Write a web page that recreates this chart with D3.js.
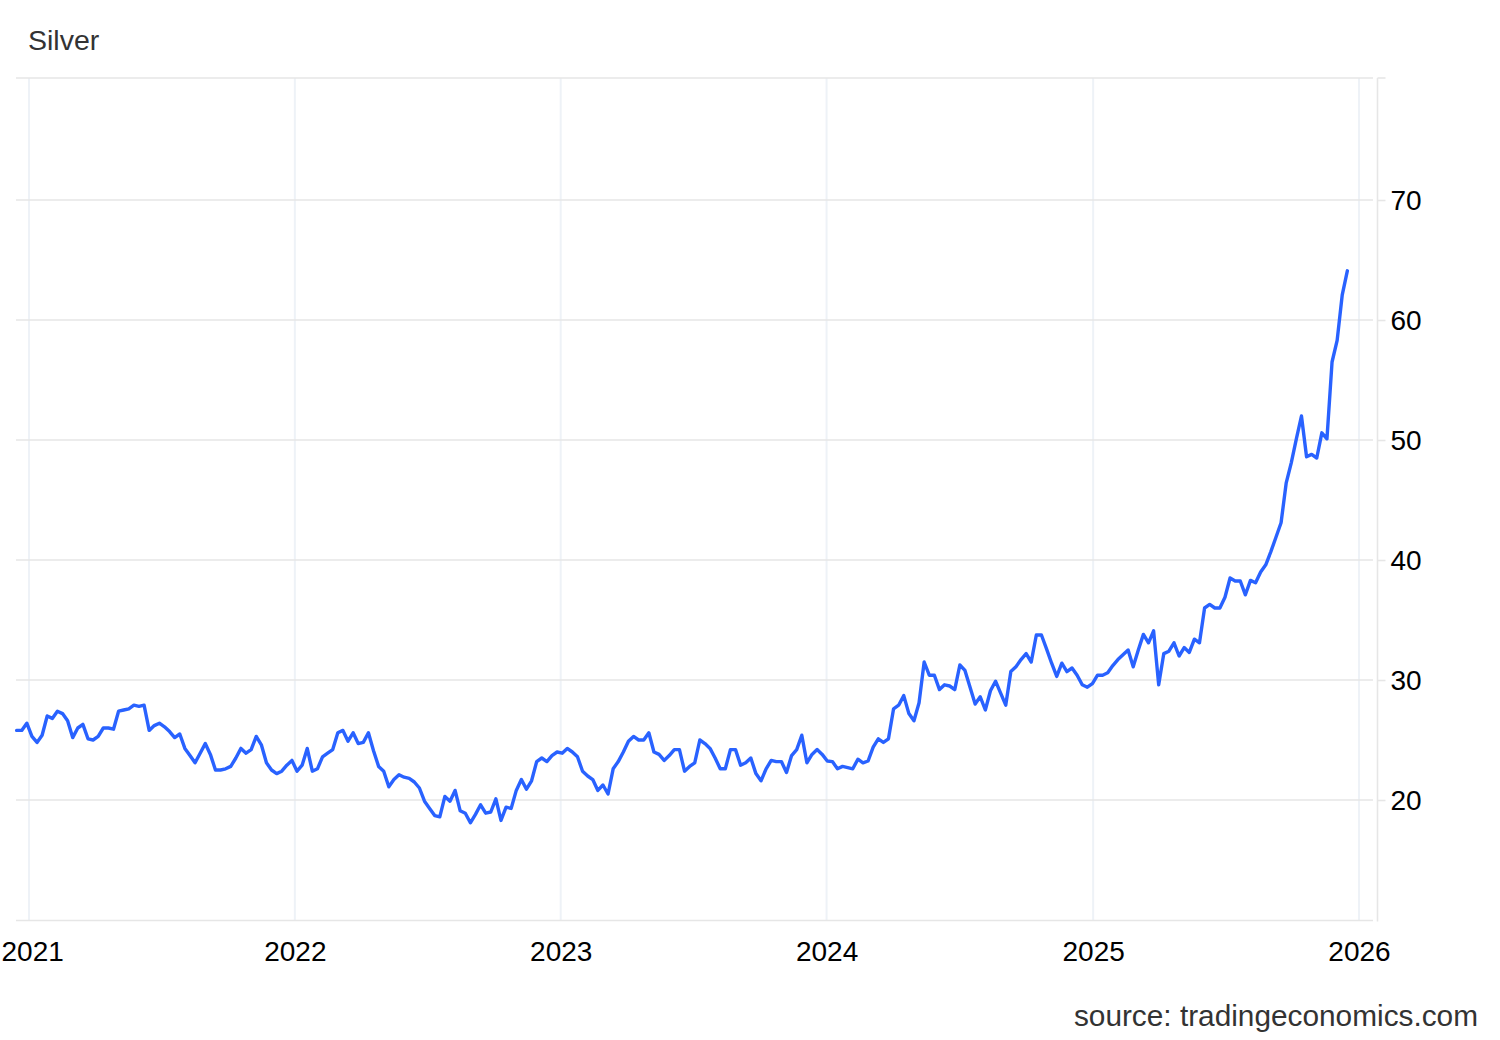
<!DOCTYPE html>
<html>
<head>
<meta charset="utf-8">
<script src="https://cdn.jsdelivr.net/npm/d3@7"></script>
<style>
  html, body { margin: 0; padding: 0; background: #fff; }
  svg { display: block; font-family: Helvetica, Arial, "Liberation Sans", sans-serif; }
</style>
</head>
<body>
<svg id="chart" width="1500" height="1040"></svg>
<script>
// ---- data (weekly closes) ----
const title = "Silver";
const sourceText = "source: tradingeconomics.com";
const firstWeek = "2020-12-15";
const prices = [
  25.8, 25.8, 26.4, 25.3, 24.8, 25.4, 27.0, 26.8, 27.4, 27.2,
  26.6, 25.2, 26.0, 26.3, 25.1, 25.0, 25.3, 26.0, 26.0, 25.9,
  27.4, 27.5, 27.6, 27.9, 27.8, 27.9, 25.8, 26.2, 26.4, 26.1,
  25.7, 25.2, 25.5, 24.3, 23.7, 23.1, 23.9, 24.7, 23.8, 22.5,
  22.5, 22.6, 22.8, 23.5, 24.3, 23.9, 24.2, 25.3, 24.6, 23.1,
  22.5, 22.2, 22.4, 22.9, 23.3, 22.4, 22.9, 24.3, 22.4, 22.6,
  23.6, 23.9, 24.2, 25.6, 25.8, 24.9, 25.6, 24.7, 24.8, 25.6,
  24.1, 22.8, 22.4, 21.1, 21.7, 22.1, 21.9, 21.8, 21.5, 21.0,
  19.9, 19.3, 18.7, 18.6, 20.3, 19.9, 20.8, 19.1, 18.9, 18.1,
  18.8, 19.6, 18.9, 19.0, 20.1, 18.3, 19.4, 19.3, 20.8, 21.7,
  20.9, 21.6, 23.2, 23.5, 23.2, 23.7, 24.0, 23.9, 24.3, 24.0,
  23.6, 22.4, 22.0, 21.7, 20.8, 21.25, 20.5, 22.6, 23.2, 24.0,
  24.9, 25.3, 25.0, 25.0, 25.6, 24.0, 23.8, 23.3, 23.7, 24.2,
  24.2, 22.4, 22.8, 23.1, 25.0, 24.7, 24.3, 23.5, 22.6, 22.6,
  24.2, 24.2, 22.9, 23.1, 23.5, 22.2, 21.6, 22.6, 23.3, 23.2,
  23.2, 22.3, 23.7, 24.2, 25.4, 23.1, 23.8, 24.2, 23.8, 23.25,
  23.2, 22.6, 22.8, 22.7, 22.6, 23.4, 23.1, 23.25, 24.4, 25.1,
  24.8, 25.1, 27.6, 27.9, 28.7, 27.2, 26.6, 28.1, 31.5, 30.4,
  30.4, 29.2, 29.6, 29.5, 29.2, 31.25, 30.8, 29.4, 28.0, 28.6,
  27.5, 29.1, 29.9, 28.9, 27.9, 30.7, 31.1, 31.7, 32.2, 31.5,
  33.75, 33.75, 32.6, 31.4, 30.3, 31.4, 30.7, 31.0, 30.4, 29.6,
  29.4, 29.7, 30.4, 30.4, 30.6, 31.2, 31.7, 32.1, 32.5, 31.1,
  32.5, 33.8, 33.1, 34.1, 29.6, 32.2, 32.4, 33.1, 32.0, 32.7,
  32.3, 33.4, 33.1, 36.0, 36.3, 36.0, 36.0, 36.9, 38.5, 38.25,
  38.25, 37.1, 38.3, 38.1, 39.0, 39.6, 40.7, 41.9, 43.1, 46.4,
  48.1, 50.1, 52.0, 48.6, 48.8, 48.5, 50.6, 50.1, 56.5, 58.3,
  62.1, 64.1
];
const yearTicks = ["2021", "2022", "2023", "2024", "2025", "2026"];
const valueTicks = [20, 30, 40, 50, 60, 70];

// ---- build ----
const parse = d3.utcParse("%Y-%m-%d");
const start = parse(firstWeek);
const series = prices.map((v, i) => ({ date: d3.utcDay.offset(start, 7 * i), value: v }));
const years = yearTicks.map(y => parse(y + "-01-01"));

const svg = d3.select("#chart");
const plotLeft = 16, plotRight = 1373, plotTop = 78, plotBottom = 920.5, axisX = 1377.5;

const x = d3.scaleUtc()
  .domain([parse("2021-01-01"), parse("2026-01-01")])
  .range([29, 1359]);
const y = d3.scaleLinear()
  .domain([20, 70])
  .range([800, 200]);

// title
svg.append("text")
  .attr("x", 28).attr("y", 50)
  .attr("font-size", 28.5).attr("fill", "#333")
  .text(title);

// vertical year gridlines
svg.append("g").selectAll("line").data(years).join("line")
  .attr("x1", d => x(d)).attr("x2", d => x(d))
  .attr("y1", plotTop).attr("y2", plotBottom)
  .attr("stroke", "#eef2f7").attr("stroke-width", 2);

// horizontal gridlines
svg.append("g").selectAll("line").data(valueTicks).join("line")
  .attr("x1", plotLeft).attr("x2", plotRight)
  .attr("y1", d => y(d)).attr("y2", d => y(d))
  .attr("stroke", "#e6e6e6").attr("stroke-width", 1.6);

// top and bottom borders
svg.append("line")
  .attr("x1", plotLeft).attr("x2", plotRight)
  .attr("y1", plotTop).attr("y2", plotTop)
  .attr("stroke", "#e6e6e6").attr("stroke-width", 1.6);
svg.append("line")
  .attr("x1", plotLeft).attr("x2", plotRight)
  .attr("y1", plotBottom).attr("y2", plotBottom)
  .attr("stroke", "#e6e6e6").attr("stroke-width", 1.6);

// right axis
const yAxis = d3.axisRight(y).tickValues(valueTicks).tickSize(8).tickPadding(5).tickFormat(d3.format("d"));
const gy = svg.append("g").attr("transform", `translate(${axisX},0)`).call(yAxis);
gy.select(".domain").attr("d", `M0,${plotTop}V${plotBottom + 1}`).attr("stroke", "#e6e6e6").attr("stroke-width", 1.6);
gy.selectAll(".tick line").attr("stroke", "#e6e6e6").attr("stroke-width", 1.6);
gy.selectAll(".tick text").attr("font-size", 28).attr("fill", "#000")
  .attr("font-family", "Helvetica, Arial, 'Liberation Sans', sans-serif").attr("dy", "0.35em");
svg.append("line")
  .attr("x1", axisX).attr("x2", axisX + 8)
  .attr("y1", plotTop).attr("y2", plotTop)
  .attr("stroke", "#e6e6e6").attr("stroke-width", 1.6);

// bottom axis labels
const xAxis = d3.axisBottom(x).tickValues(years).tickSize(0).tickPadding(0).tickFormat(d3.utcFormat("%Y"));
const gx = svg.append("g").attr("transform", `translate(0,${plotBottom})`).call(xAxis);
gx.select(".domain").remove();
gx.selectAll(".tick text").attr("font-size", 28).attr("fill", "#000")
  .attr("font-family", "Helvetica, Arial, 'Liberation Sans', sans-serif")
  .attr("y", 40).attr("dy", "0");
// keep the first label inside the page edge, as in the reference
gx.selectAll(".tick text").filter((d, i) => i === 0)
  .attr("text-anchor", "start").attr("x", 1 - x(years[0]));

// line
const line = d3.line().x(d => x(d.date)).y(d => y(d.value));
svg.append("path")
  .datum(series)
  .attr("d", line)
  .attr("fill", "none")
  .attr("stroke", "#2962ff")
  .attr("stroke-width", 3.4)
  .attr("stroke-linejoin", "round")
  .attr("stroke-linecap", "round");

// source
svg.append("text")
  .attr("x", 1478).attr("y", 1026)
  .attr("text-anchor", "end")
  .attr("font-size", 29.8).attr("fill", "#333")
  .text(sourceText);
</script>
</body>
</html>
